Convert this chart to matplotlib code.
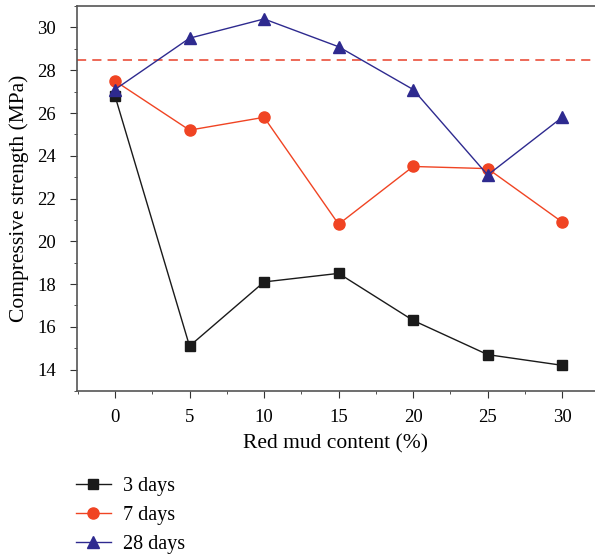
import matplotlib.pyplot as plt
from matplotlib.ticker import MultipleLocator

plt.rcParams['font.family'] = ['Liberation Serif', 'DejaVu Serif']

content = [0, 5, 10, 15, 20, 25, 30]
days3 = [26.8, 15.1, 18.1, 18.5, 16.3, 14.7, 14.2]
days7 = [27.5, 25.2, 25.8, 20.8, 23.5, 23.4, 20.9]
days28 = [27.1, 29.5, 30.4, 29.1, 27.1, 23.1, 25.8]
ref_line = 28.5
labels = ['3 days', '7 days', '28 days']

fig = plt.figure(figsize=(5.95, 5.56), dpi=100)
ax = fig.add_axes([0.1294, 0.2968, 0.8706, 0.6922])

ax.axhline(ref_line, color='#e8402a', lw=1.1, ls=(0, (6, 4)))
ax.plot(content, days3, color='#1a1a1a', marker='s', ms=7, lw=1, label=labels[0])
ax.plot(content, days7, color='#f04423', marker='o', ms=8, lw=1, label=labels[1])
ax.plot(content, days28, color='#2e2a8f', marker='^', ms=9, lw=1, label=labels[2])

ax.set_xlim(-2.55, 32.2)
ax.set_ylim(13, 31)
ax.xaxis.set_major_locator(MultipleLocator(5))
ax.xaxis.set_minor_locator(MultipleLocator(2.5))
ax.yaxis.set_major_locator(MultipleLocator(2))
ax.yaxis.set_minor_locator(MultipleLocator(1))
ax.set_yticks([14, 16, 18, 20, 22, 24, 26, 28, 30])
ax.tick_params(which='both', direction='out', labelsize=13.5, color='#333333')
ax.tick_params(which='major', length=5)
ax.tick_params(which='minor', length=2.5)
ax.tick_params(axis='y', pad=10)
ax.tick_params(axis='x', pad=8)
ax.spines['right'].set_visible(False)
for s in ['left', 'bottom', 'top']:
    ax.spines[s].set_color('#555555')
    ax.spines[s].set_linewidth(1.2)

ax.set_xlabel('Red mud content (%)', fontsize=15.5, labelpad=6)
ax.set_ylabel('Compressive strength (MPa)', fontsize=15.5, labelpad=6)

fig.legend(loc='upper left', bbox_to_anchor=(0.127, 0.142), frameon=False,
           fontsize=14.5, handlelength=1.75, labelspacing=0.48, handletextpad=0.6,
           borderpad=0, borderaxespad=0)

fig.savefig('out.png', dpi=100)
